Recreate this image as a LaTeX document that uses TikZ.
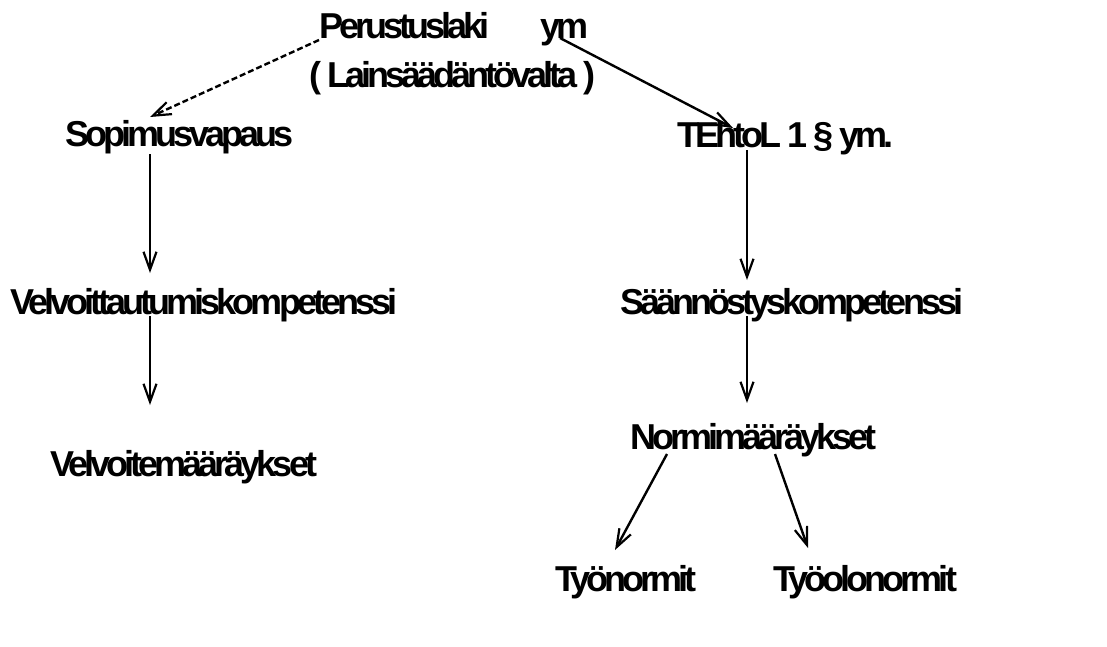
\documentclass[tikz,border=0pt]{standalone}
\usepackage{fontspec}
\setmainfont{Liberation Sans}[LetterSpace=-11]
\usetikzlibrary{arrows.meta,calc}
\begin{document}
\begin{tikzpicture}[x=1pt,y=-1pt,
  lbl/.style={anchor=base west,inner sep=0pt,font=\bfseries\fontsize{36}{40}\selectfont},
  arr/.style={line width=2.4pt,-{Straight Barb[length=18pt,width=13pt,line width=2.2pt]}},
  dsh/.style={arr,dash pattern=on 6pt off 3pt}]
\useasboundingbox[fill=white] (0,0) rectangle (1107,646);
\node[lbl] (per) at (319,38) {Perustuslaki};
\node[lbl] (ym) at (540,38) {ym};
\node[lbl] (lain) at (309,87) {( Lainsäädäntövalta )};
\node[lbl] (sop) at (65,146) {Sopimusvapaus};
\node[lbl] (tehto) at (677,147) {TEhtoL 1 § ym.};
\node[lbl] (velk) at (10,314) {Velvoittautumiskompetenssi};
\node[lbl] (saan) at (620,314) {Säännöstyskompetenssi};
\node[lbl] (velm) at (50,476) {Velvoitemääräykset};
\node[lbl] (norm) at (630,449) {Normimääräykset};
\node[lbl] (tyon) at (555,591) {Työnormit};
\node[lbl] (tyoo) at (773,591) {Työolonormit};
\draw[dsh] ($(per.base west)+(0,2)$) -- ($(sop.base west)+(85,-29)$);
\draw[arr] ($(ym.base west)+(20,0)$) -- ($(tehto.base west)+(56,-19)$);
\draw[arr] ($(sop.base west)+(85,8)$) -- ($(velk.base west)+(140,-41)$);
\draw[arr] ($(velk.base west)+(140,2)$) -- ($(velm.base west)+(100,-71)$);
\draw[arr] ($(tehto.base west)+(70,3)$) -- ($(saan.base west)+(127,-34)$);
\draw[arr] ($(saan.base west)+(127,2)$) -- ($(norm.base west)+(117,-46)$);
\draw[arr] ($(norm.base west)+(37,5)$) -- ($(tyon.base west)+(60,-41)$);
\draw[arr] ($(norm.base west)+(145,5)$) -- ($(tyoo.base west)+(35,-43)$);
\end{tikzpicture}
\end{document}
